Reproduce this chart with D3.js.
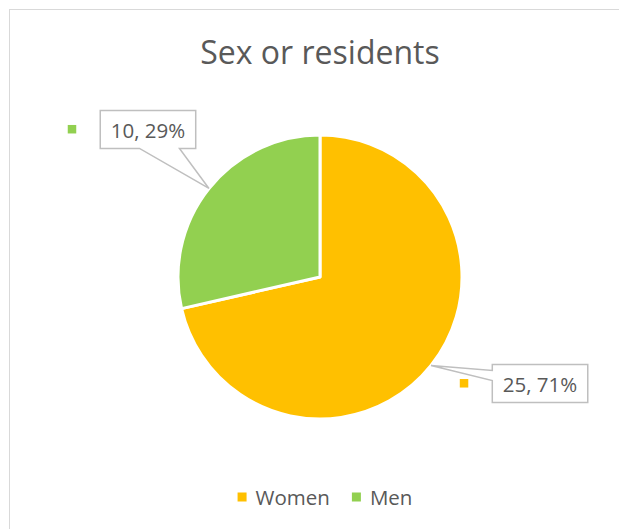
<!DOCTYPE html>
<html>
<head>
<meta charset="utf-8">
<script src="https://cdn.jsdelivr.net/npm/d3@7"></script>
<style>
  html, body { margin: 0; padding: 0; background: #fff; }
  svg { display: block; font-family: "Open Sans", sans-serif; }
</style>
</head>
<body>
<div class="chart"></div>
<script>
// Chart settings
const width = 619;
const height = 529;
const radius = 142;
const center = { x: 320, y: 277 };

const title = "Sex or residents";
const categories = ["Women", "Men"];
const counts = [25, 10];
const colors = ["#FFC000", "#92D050"];

// callout placement, relative to the point on the slice edge
const callouts = {
  Women: { dx: 109, dy: 18, side: "left" },
  Men: { dx: -61, dy: -59, side: "bottom" }
};

const textColor = "#595959";
const total = d3.sum(counts);

const data = categories.map((c, i) => ({ name: c, value: counts[i] }));

const color = d3.scaleOrdinal()
  .domain(categories)
  .range(colors);

const svg = d3.select(".chart")
  .append("svg")
  .attr("width", width)
  .attr("height", height);

// chart area frame
svg.append("rect")
  .attr("x", 9.5)
  .attr("y", 9.5)
  .attr("width", width)
  .attr("height", height)
  .attr("fill", "#fff")
  .attr("stroke", "#d9d9d9")
  .attr("stroke-width", 1);

svg.append("text")
  .attr("x", center.x)
  .attr("y", 64)
  .attr("text-anchor", "middle")
  .attr("fill", textColor)
  .style("font-size", "32px")
  .text(title);

const pie = d3.pie()
  .sort(null)
  .value(d => d.value);

const arc = d3.arc()
  .innerRadius(0)
  .outerRadius(radius);

const edgeArc = d3.arc()
  .innerRadius(radius)
  .outerRadius(radius);

const arcs = pie(data);

const g = svg.append("g")
  .attr("transform", `translate(${center.x}, ${center.y})`);

g.selectAll("path")
  .data(arcs)
  .join("path")
    .attr("d", arc)
    .attr("fill", d => color(d.data.name))
    .attr("stroke", "#fff")
    .attr("stroke-width", 3)
    .attr("stroke-linejoin", "round");

// data label callouts
const labels = g.append("g");

arcs.forEach(d => {
  const c = callouts[d.data.name];
  const [tx, ty] = edgeArc.centroid(d);
  const cx = tx + c.dx;
  const cy = ty + c.dy;
  const pct = Math.round(d.data.value / total * 100);

  const lg = labels.append("g");
  const box = lg.append("path");
  const txt = lg.append("text")
    .attr("x", cx)
    .attr("y", cy + 8.5)
    .attr("text-anchor", "middle")
    .attr("fill", textColor)
    .style("font-size", "20.5px")
    .text(`${d.data.value}, ${pct}%`);

  const w = txt.node().getComputedTextLength() + 21;
  const h = 38;
  const x0 = cx - w / 2, x1 = cx + w / 2;
  const y0 = cy - h / 2, y1 = cy + h / 2;

  let p;
  if (c.side === "bottom") {
    p = `M${x0},${y0}H${x1}V${y1}H${cx + 31.5}L${tx},${ty}L${cx - 8.5},${y1}H${x0}Z`;
  } else {
    p = `M${x0},${y0}H${x1}V${y1}H${x0}V${y0 + 16}L${tx},${ty}L${x0},${y0 + 6}Z`;
  }
  box.attr("d", p)
    .attr("fill", "#fff")
    .attr("stroke", "#bfbfbf")
    .attr("stroke-width", 1.5);

  // legend key shown next to the label
  lg.append("rect")
    .attr("x", x0 - 24 - 8.5)
    .attr("y", cy - 4.5)
    .attr("width", 8.5)
    .attr("height", 8.5)
    .attr("fill", color(d.data.name));
});

// legend
const legend = svg.append("g");
let lx = 0;
categories.forEach(c => {
  const item = legend.append("g").attr("transform", `translate(${lx}, 0)`);
  item.append("rect")
    .attr("x", 0)
    .attr("y", -4.5)
    .attr("width", 9)
    .attr("height", 9)
    .attr("fill", color(c));
  const t = item.append("text")
    .attr("x", 18)
    .attr("y", 7.5)
    .attr("fill", textColor)
    .style("font-size", "20.5px")
    .text(c);
  lx += 18 + t.node().getComputedTextLength() + 22;
});
const legendWidth = lx - 22;
legend.attr("transform", `translate(${325 - legendWidth / 2}, 497)`);
</script>
</body>
</html>
